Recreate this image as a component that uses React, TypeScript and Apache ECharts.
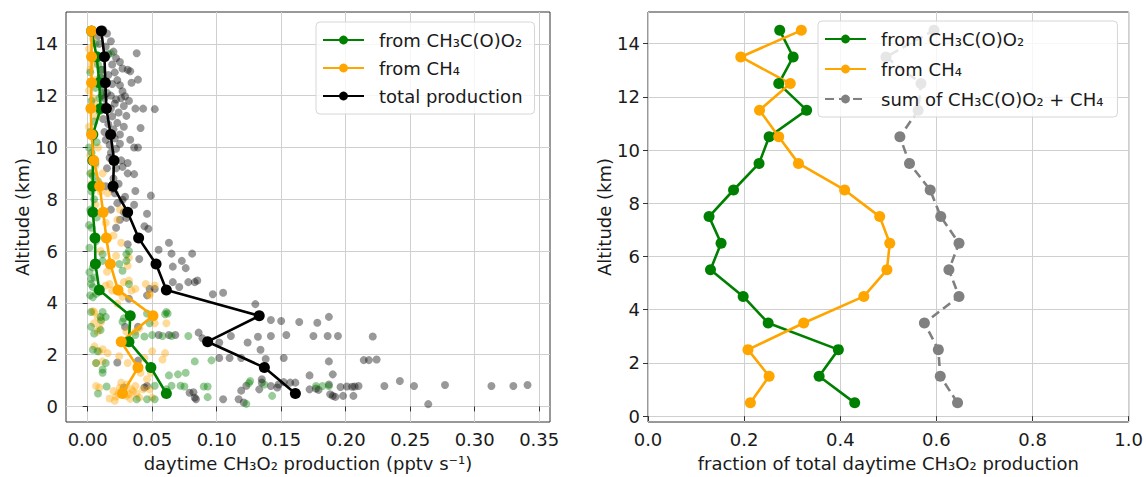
import React, { useEffect, useRef } from "react";
import * as echarts from "echarts";

const FONT = "DejaVu Sans";
const TXT = "#1a1a1a";

// altitude bins (km)
const altitudes = [0.5, 1.5, 2.5, 3.5, 4.5, 5.5, 6.5, 7.5, 8.5, 9.5, 10.5, 11.5, 12.5, 13.5, 14.5];

// left panel: median production profiles (pptv s-1)
const leftGreen = [0.061, 0.049, 0.032, 0.033, 0.009, 0.006, 0.0057, 0.004, 0.004, 0.004, 0.004, 0.010, 0.009, 0.007, 0.003];
const leftOrange = [0.027, 0.039, 0.026, 0.0506, 0.0235, 0.0176, 0.0145, 0.012, 0.0093, 0.0047, 0.003, 0.0025, 0.003, 0.003, 0.003];
const leftBlack = [0.161, 0.137, 0.093, 0.133, 0.061, 0.053, 0.0395, 0.031, 0.0197, 0.0204, 0.0178, 0.0145, 0.0137, 0.013, 0.0106];

// right panel: fractions
const rightGreen = [0.430, 0.356, 0.396, 0.250, 0.198, 0.130, 0.152, 0.127, 0.178, 0.231, 0.252, 0.330, 0.272, 0.302, 0.274];
const rightOrange = [0.213, 0.252, 0.208, 0.324, 0.449, 0.497, 0.503, 0.482, 0.409, 0.313, 0.272, 0.232, 0.296, 0.193, 0.319];
const rightSum = [0.644, 0.608, 0.604, 0.575, 0.647, 0.626, 0.647, 0.609, 0.587, 0.544, 0.524, 0.562, 0.568, 0.495, 0.595];

// individual observations [production, altitude]
const scatBlack: number[][] = [
  [0.012, 14.55], [0.015, 14.4], [0.018, 14.1], [0.008, 14.3], [0.022, 13.45], [0.038, 13.64], [0.014, 13.9], [0.019, 13.2],
  [0.025, 13.3], [0.031, 13.0], [0.033, 12.94], [0.011, 13.0], [0.016, 12.8], [0.039, 12.62], [0.034, 12.5], [0.023, 12.6],
  [0.025, 12.4], [0.027, 12.17], [0.029, 11.98], [0.012, 12.3], [0.018, 12.0], [0.021, 11.7], [0.037, 11.5], [0.043, 11.5],
  [0.052, 11.48], [0.028, 11.6], [0.024, 11.35], [0.030, 11.22], [0.012, 11.1], [0.016, 10.9], [0.020, 10.7], [0.041, 10.75],
  [0.025, 10.5], [0.014, 10.3], [0.036, 10.0], [0.039, 10.0], [0.025, 10.14], [0.022, 9.95], [0.018, 9.8], [0.031, 9.4],
  [0.026, 9.5], [0.027, 9.25], [0.015, 9.2], [0.031, 9.0], [0.036, 8.97], [0.020, 8.8], [0.037, 8.32], [0.049, 8.14],
  [0.021, 8.23], [0.027, 7.98], [0.014, 8.5], [0.036, 7.79], [0.046, 7.44], [0.025, 7.21], [0.030, 7.28], [0.018, 7.6],
  [0.044, 6.96], [0.047, 6.86], [0.022, 6.9], [0.010, 12.7], [0.013, 11.9], [0.020, 13.7], [0.017, 10.1], [0.024, 8.6],
  [0.009, 14.0], [0.016, 13.6], [0.021, 12.9], [0.019, 12.45], [0.015, 12.1], [0.022, 11.85], [0.018, 11.5], [0.026, 11.9],
  [0.014, 11.6], [0.019, 11.2], [0.023, 10.95], [0.028, 10.8], [0.021, 10.35], [0.017, 9.6], [0.022, 9.2], [0.019, 8.4],
  [0.023, 7.85], [0.028, 7.5], [0.013, 10.6], [0.011, 12.0], [0.027, 13.05], [0.032, 11.8], [0.033, 10.3], [0.029, 8.1],
  [0.063, 6.32], [0.055, 6.05], [0.081, 5.9], [0.065, 5.9], [0.073, 5.62], [0.076, 5.34], [0.066, 5.4], [0.031, 6.26],
  [0.040, 5.69], [0.052, 4.54], [0.048, 4.54], [0.066, 4.8], [0.071, 4.61], [0.078, 4.8], [0.083, 4.8], [0.085, 4.86],
  [0.097, 4.33], [0.105, 4.39], [0.130, 3.95], [0.032, 4.16], [0.046, 4.29], [0.142, 3.34], [0.150, 3.30], [0.164, 3.26],
  [0.178, 3.23], [0.187, 3.46], [0.039, 3.08], [0.029, 3.08], [0.055, 2.76], [0.063, 2.76], [0.068, 2.76], [0.086, 2.85],
  [0.089, 2.63], [0.102, 2.47], [0.111, 2.72], [0.124, 2.47], [0.132, 2.69], [0.142, 2.72], [0.154, 2.76], [0.175, 2.72],
  [0.186, 2.72], [0.194, 2.72], [0.221, 2.70], [0.134, 2.19], [0.138, 1.83], [0.152, 1.87], [0.187, 1.74], [0.214, 1.79],
  [0.218, 1.79], [0.224, 1.81], [0.102, 1.87], [0.110, 1.87], [0.119, 1.87], [0.023, 1.70], [0.039, 1.77],
  [0.172, 1.20], [0.190, 1.24], [0.242, 0.98], [0.277, 0.83], [0.313, 0.79], [0.330, 0.79], [0.341, 0.83], [0.230, 0.79],
  [0.253, 0.79], [0.210, 0.79], [0.207, 0.77], [0.201, 0.77], [0.196, 0.75], [0.172, 0.66], [0.179, 0.64], [0.188, 0.47],
  [0.192, 0.37], [0.198, 0.41], [0.206, 0.41], [0.264, 0.09], [0.135, 1.05], [0.135, 0.92], [0.133, 0.66], [0.142, 0.79],
  [0.147, 0.73], [0.152, 0.94], [0.157, 0.92], [0.161, 0.92], [0.148, 0.85], [0.177, 0.69], [0.187, 0.85], [0.190, 0.41],
  [0.205, 0.76], [0.079, 0.53], [0.083, 0.34], [0.084, 0.28], [0.105, 0.28], [0.117, 0.28], [0.121, 0.15], [0.044, 0.73],
  [0.046, 0.79], [0.028, 0.73], [0.119, 0.61], [0.123, 0.80], [0.082, 0.55],
];

const scatGreen: number[][] = [
  [0.003, 14.4], [0.006, 14.0], [0.018, 13.64], [0.004, 13.5], [0.008, 13.2], [0.002, 12.9], [0.010, 12.7], [0.006, 12.3],
  [0.012, 12.1], [0.003, 11.8], [0.009, 11.4], [0.005, 11.0], [0.002, 10.6], [0.007, 10.2], [0.003, 9.8], [0.006, 9.4],
  [0.002, 9.0], [0.008, 8.7], [0.003, 8.3], [0.005, 8.0], [0.002, 7.6], [0.007, 7.3], [0.003, 6.9], [0.0013, 6.13],
  [0.0065, 6.39], [0.0052, 4.98], [0.0026, 4.73], [0.0065, 4.35], [0.004, 4.22], [0.0116, 5.88], [0.0116, 5.62],
  [0.0245, 5.5], [0.027, 5.24], [0.032, 4.73], [0.030, 5.88], [0.032, 6.0], [0.030, 5.62], [0.004, 5.37], [0.0013, 5.18],
  [0.0026, 4.92], [0.004, 4.61], [0.0019, 4.29], [0.011, 13.0], [0.009, 11.9], [0.001, 10.0], [0.004, 8.9], [0.001, 7.0],
  [0.0116, 3.65], [0.0104, 3.34], [0.014, 3.46], [0.027, 3.27], [0.061, 3.65], [0.048, 3.21], [0.060, 3.56], [0.062, 3.59],
  [0.046, 3.59], [0.028, 3.40], [0.034, 3.46], [0.0026, 3.65], [0.010, 3.46], [0.0026, 3.08], [0.005, 2.82], [0.010, 2.95],
  [0.050, 2.76], [0.058, 2.72], [0.065, 2.72], [0.078, 2.72], [0.037, 2.76], [0.044, 2.70], [0.004, 2.19], [0.0077, 2.13],
  [0.0116, 1.43], [0.0116, 1.30], [0.0065, 1.68], [0.014, 1.68], [0.083, 1.74], [0.096, 1.78], [0.063, 1.20], [0.070, 1.24],
  [0.076, 1.30],
  [0.075, 0.77], [0.065, 0.8], [0.072, 0.8], [0.090, 0.77], [0.093, 0.77], [0.093, 0.36], [0.126, 0.98], [0.143, 0.41],
  [0.038, 0.28], [0.046, 0.28], [0.052, 0.28], [0.061, 0.66], [0.125, 0.9], [0.137, 0.85], [0.177, 0.79], [0.182, 0.79],
  [0.187, 0.79], [0.0147, 0.77], [0.008, 0.5], [0.052, 0.80], [0.123, 0.1],
];

const scatOrange: number[][] = [
  [0.002, 14.5], [0.004, 14.2], [0.001, 13.8], [0.005, 13.4], [0.002, 13.0], [0.006, 12.6], [0.001, 12.2], [0.004, 11.9],
  [0.002, 11.5], [0.007, 11.2], [0.001, 10.8], [0.004, 10.4], [0.008, 10.0], [0.002, 9.7], [0.006, 9.3], [0.0116, 9.0],
  [0.010, 8.3], [0.0155, 8.23], [0.003, 8.6], [0.025, 7.6], [0.023, 7.21], [0.014, 7.09], [0.006, 7.8], [0.026, 6.32],
  [0.032, 5.75], [0.031, 5.43], [0.014, 4.67], [0.019, 4.48], [0.0245, 4.42], [0.034, 4.48], [0.037, 4.54], [0.048, 4.35],
  [0.052, 4.67], [0.005, 3.65], [0.0077, 3.46], [0.005, 3.21], [0.009, 3.02], [0.022, 5.82], [0.027, 4.23], [0.023, 3.97],
  [0.017, 4.73], [0.028, 4.80], [0.032, 4.86], [0.045, 4.73], [0.048, 4.29], [0.052, 3.21], [0.061, 3.21], [0.030, 2.89],
  [0.037, 2.89], [0.040, 3.02], [0.010, 6.0], [0.015, 5.2], [0.020, 6.6], [0.003, 13.2], [0.005, 11.7], [0.003, 9.0],
  [0.0039, 3.68], [0.0104, 3.27], [0.0077, 2.89], [0.0052, 2.32], [0.0116, 2.21], [0.009, 2.13], [0.0155, 2.06],
  [0.0065, 1.68], [0.0116, 1.74], [0.0245, 1.94], [0.031, 1.68], [0.044, 1.87], [0.050, 2.13], [0.060, 2.06], [0.058, 1.81],
  [0.041, 1.30], [0.049, 1.30], [0.046, 1.05], [0.0065, 0.79], [0.009, 0.73], [0.017, 0.31], [0.021, 0.22], [0.026, 0.92],
  [0.027, 0.66], [0.030, 0.41], [0.034, 0.66], [0.037, 0.79], [0.043, 0.66], [0.048, 0.66], [0.040, 0.34], [0.050, 0.34],
  [0.024, 0.5], [0.028, 0.55], [0.032, 0.48], [0.035, 0.58], [0.025, 0.72], [0.020, 0.6], [0.030, 0.85], [0.022, 0.38],
  [0.033, 0.3], [0.038, 0.5],
];

// axis ticks
const leftXTicks = [0, 0.05, 0.1, 0.15, 0.2, 0.25, 0.3, 0.35];
const altTicks = [0, 2, 4, 6, 8, 10, 12, 14];
const rightXTicks = [0, 0.2, 0.4, 0.6, 0.8, 1.0];

const NAME_ACETYL = "from CH₃C(O)O₂";
const NAME_CH4 = "from CH₄";
const NAME_TOTAL = "total production";
const NAME_SUM = "sum of CH₃C(O)O₂ + CH₄";

const GREEN = "#008000";
const ORANGE = "#ffa500";
const GRAY = "#808080";

export default function App() {
  const ref = useRef<HTMLDivElement>(null);
  useEffect(() => {
    document.body.style.margin = "0";
    if (!ref.current) return;
    const chart = echarts.init(ref.current, undefined, { renderer: "svg" });

    const pair = (xs: number[]) => xs.map((x, i) => [x, altitudes[i]]);
    const axisText = { fontFamily: FONT, fontSize: 18, color: TXT };
    const tickStyle = { show: true, length: 5, lineStyle: { color: "#333", width: 1 } };
    const split = { show: true, lineStyle: { color: "#cfcfcf", width: 1 } };

    const xAxisCommon = (gridIndex: number, min: number, max: number, split_n: number, ticks: number[], dec: number, name: string) => ({
      type: "value",
      gridIndex,
      min,
      max,
      splitNumber: split_n,
      name,
      nameLocation: "middle",
      nameGap: 32,
      nameTextStyle: { ...axisText },
      axisLine: { show: false },
      axisTick: { ...tickStyle, customValues: ticks },
      axisLabel: { ...axisText, margin: 8, customValues: ticks, showMinLabel: true, showMaxLabel: true, formatter: (v: number) => v.toFixed(dec) },
      splitLine: split,
    });
    const yAxisCommon = (gridIndex: number, min: number, max: number) => ({
      type: "value",
      gridIndex,
      min,
      max,
      splitNumber: 8,
      name: "Altitude (km)",
      nameLocation: "middle",
      nameRotate: 90,
      nameGap: 32,
      nameTextStyle: { ...axisText },
      axisLine: { show: false },
      axisTick: { ...tickStyle, customValues: altTicks },
      axisLabel: { ...axisText, margin: 8, customValues: altTicks, showMinLabel: true, showMaxLabel: true, formatter: (v: number) => String(Math.round(v)) },
      splitLine: split,
    });

    const legendCommon = {
      orient: "vertical",
      itemWidth: 41,
      itemHeight: 11,
      itemGap: 10,
      z: 20,
      backgroundColor: "rgba(255,255,255,0.8)",
      borderColor: "#d6d6d6",
      borderWidth: 1,
      borderRadius: 4,
      textStyle: { fontFamily: FONT, fontSize: 18, color: TXT, padding: [0, 0, 0, 10] },
      selectedMode: false,
    };

    const lineSeries = (name: string, xIdx: number, data: number[], color: string, size: number, dashed = false) => ({
      type: "line",
      name,
      xAxisIndex: xIdx,
      yAxisIndex: xIdx,
      data: pair(data),
      symbol: "circle",
      symbolSize: size,
      showSymbol: true,
      z: 3,
      lineStyle: { color, width: 2.6, type: dashed ? [9, 5] : "solid" },
      itemStyle: { color, borderWidth: 0 },
    });

    const scatter = (data: number[][], color: string) => ({
      type: "scatter",
      xAxisIndex: 0,
      yAxisIndex: 0,
      data,
      symbol: "circle",
      symbolSize: 8,
      z: 2,
      itemStyle: { color, borderWidth: 0 },
    });

    chart.setOption({
      animation: false,
      grid: [
        { left: 66, top: 12, width: 484, height: 415, show: true, borderColor: "#333", borderWidth: 1, backgroundColor: "transparent" },
        { left: 648, top: 12, width: 485, height: 416, show: true, borderColor: "#333", borderWidth: 1, backgroundColor: "transparent" },
      ],
      xAxis: [
        xAxisCommon(0, -0.0168, 0.3584, 7, leftXTicks, 2, "daytime CH₃O₂ production (pptv s⁻¹)"),
        xAxisCommon(1, 0, 1, 5, rightXTicks, 1, "fraction of total daytime CH₃O₂ production"),
      ],
      yAxis: [yAxisCommon(0, -0.6, 15.23), yAxisCommon(1, -0.22, 15.19)],
      legend: [
        { ...legendCommon, left: 316, top: 22, padding: [9, 12, 9, 6], data: [NAME_ACETYL, NAME_CH4, NAME_TOTAL] },
        { ...legendCommon, left: 818, top: 21, padding: [9, 14, 9, 6], itemGap: 12, data: [NAME_ACETYL + " ", NAME_CH4 + " ", NAME_SUM] },
      ],
      series: [
        scatter(scatBlack, "rgba(0,0,0,0.5)"),
        scatter(scatOrange, "rgba(255,165,0,0.5)"),
        scatter(scatGreen, "rgba(0,128,0,0.5)"),
        lineSeries(NAME_ACETYL, 0, leftGreen, GREEN, 11),
        lineSeries(NAME_CH4, 0, leftOrange, ORANGE, 11),
        lineSeries(NAME_TOTAL, 0, leftBlack, "#000000", 11),
        lineSeries(NAME_ACETYL + " ", 1, rightGreen, GREEN, 11),
        lineSeries(NAME_CH4 + " ", 1, rightOrange, ORANGE, 11),
        lineSeries(NAME_SUM, 1, rightSum, GRAY, 11, true),
      ],
    });
    return () => chart.dispose();
  }, []);
  return <div ref={ref} style={{ width: 1146, height: 477 }} />;
}
